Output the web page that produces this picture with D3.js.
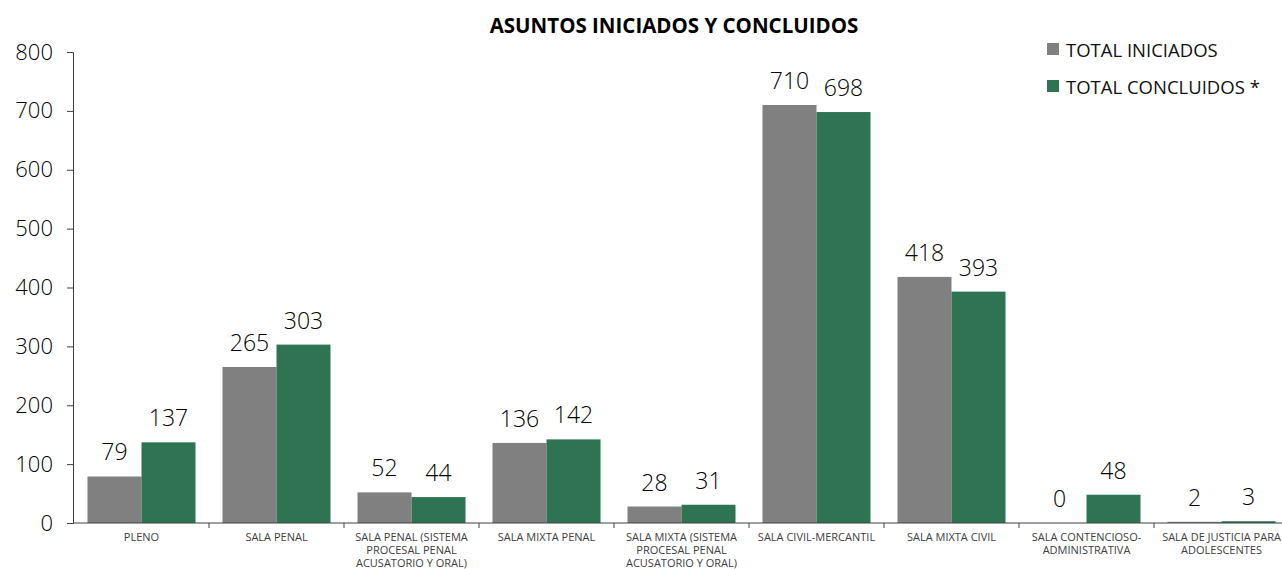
<!DOCTYPE html>
<html>
<head>
<meta charset="utf-8">
<script src="https://cdn.jsdelivr.net/npm/d3@7"></script>
<style>
  body { margin: 0; background: #fff; }
  svg { display: block; }
</style>
</head>
<body>
<div id="chart"></div>
<script>
'use strict';

var categories = [
  "PLENO", "SALA PENAL", "SALA PENAL (SISTEMA|PROCESAL PENAL|ACUSATORIO Y ORAL)",
  "SALA MIXTA PENAL", "SALA MIXTA (SISTEMA|PROCESAL PENAL|ACUSATORIO Y ORAL)",
  "SALA CIVIL-MERCANTIL", "SALA MIXTA CIVIL", "SALA CONTENCIOSO-|ADMINISTRATIVA",
  "SALA DE JUSTICIA PARA|ADOLESCENTES"
];
var iniciados = [79, 265, 52, 136, 28, 710, 418, 0, 2];
var concluidos = [137, 303, 44, 142, 31, 698, 393, 48, 3];
var seriesNames = ["TOTAL INICIADOS", "TOTAL CONCLUIDOS *"];
var seriesColors = ["#808080", "#2e7352"];
var yTicks = [0, 100, 200, 300, 400, 500, 600, 700, 800];

var W = 1282, H = 569;
var svg = d3.select("#chart").append("svg").attr("width", W).attr("height", H);

var x = d3.scaleBand().domain(categories).range([74, 1289]).paddingInner(0).paddingOuter(0);
var x1 = d3.scaleBand().domain([0, 1]).range([0, x.bandwidth()]).paddingOuter(0.25).paddingInner(0);
var y = d3.scaleLinear().domain([0, 800]).range([523, 52]);

var font = "'Open Sans', sans-serif";

// y axis
var yAxis = svg.append("g").attr("transform", "translate(73,0)")
  .call(d3.axisLeft(y).tickValues(yTicks).tickSize(6).tickPadding(14));
yAxis.select(".domain").attr("stroke", "#404040");
yAxis.selectAll(".tick line").attr("stroke", "#404040");
yAxis.selectAll("text").attr("font-family", font).attr("font-weight", 300)
  .attr("font-size", 22).attr("fill", "#000");

// bars
var data = categories.map(function (c, i) { return { cat: c, vals: [iniciados[i], concluidos[i]] }; });
var groups = svg.append("g").selectAll("g").data(data).enter().append("g")
  .attr("transform", function (d) { return "translate(" + x(d.cat) + ",0)"; });

groups.selectAll("rect").data(function (d) { return d.vals; }).enter().append("rect")
  .attr("x", function (d, i) { return x1(i); })
  .attr("width", x1.bandwidth())
  .attr("y", function (d) { return y(d); })
  .attr("height", function (d) { return y(0) - y(d); })
  .attr("fill", function (d, i) { return seriesColors[i]; });

groups.selectAll("text.val").data(function (d) { return d.vals; }).enter().append("text")
  .attr("class", "val")
  .attr("x", function (d, i) { return x1(i) + x1.bandwidth() / 2; })
  .attr("y", function (d) { return y(d) - 16; })
  .attr("text-anchor", "middle")
  .attr("font-family", font)
  .attr("font-weight", 300)
  .attr("font-size", 23)
  .attr("fill", "#000")
  .text(function (d) { return d; });

// x axis
var xAxis = svg.append("g").attr("transform", "translate(0,523)");
xAxis.append("line").attr("x1", 73).attr("x2", 1289).attr("stroke", "#404040");
xAxis.selectAll("line.tk").data(categories.slice(1)).enter().append("line")
  .attr("class", "tk")
  .attr("x1", function (d) { return x(d); }).attr("x2", function (d) { return x(d); })
  .attr("y1", 0).attr("y2", 5).attr("stroke", "#404040");

var labels = xAxis.selectAll("text.cat").data(categories).enter().append("text")
  .attr("class", "cat")
  .attr("text-anchor", "middle")
  .attr("font-family", font)
  .attr("font-size", 11)
  .attr("fill", "#404040")
  .attr("transform", function (d) { return "translate(" + (x(d) + x.bandwidth() / 2) + ",0)"; });
labels.selectAll("tspan").data(function (d) { return d.split("|"); }).enter().append("tspan")
  .attr("x", 0)
  .attr("y", function (d, i) { return 18 + i * 13; })
  .text(function (d) { return d; });

// title
svg.append("text")
  .attr("x", 674).attr("y", 33)
  .attr("text-anchor", "middle")
  .attr("font-family", font)
  .attr("font-weight", "bold")
  .attr("font-size", 20.5)
  .text("ASUNTOS INICIADOS Y CONCLUIDOS");

// legend
var legend = svg.append("g").selectAll("g").data(seriesNames).enter().append("g")
  .attr("transform", function (d, i) { return "translate(1047," + (43 + i * 37) + ")"; });
legend.append("rect").attr("width", 12).attr("height", 12)
  .attr("fill", function (d, i) { return seriesColors[i]; });
legend.append("text").attr("x", 19).attr("y", 13.5)
  .attr("font-family", font)
  .attr("font-size", 18.5)
  .attr("fill", "#111")
  .text(function (d) { return d; });
</script>
</body>
</html>
